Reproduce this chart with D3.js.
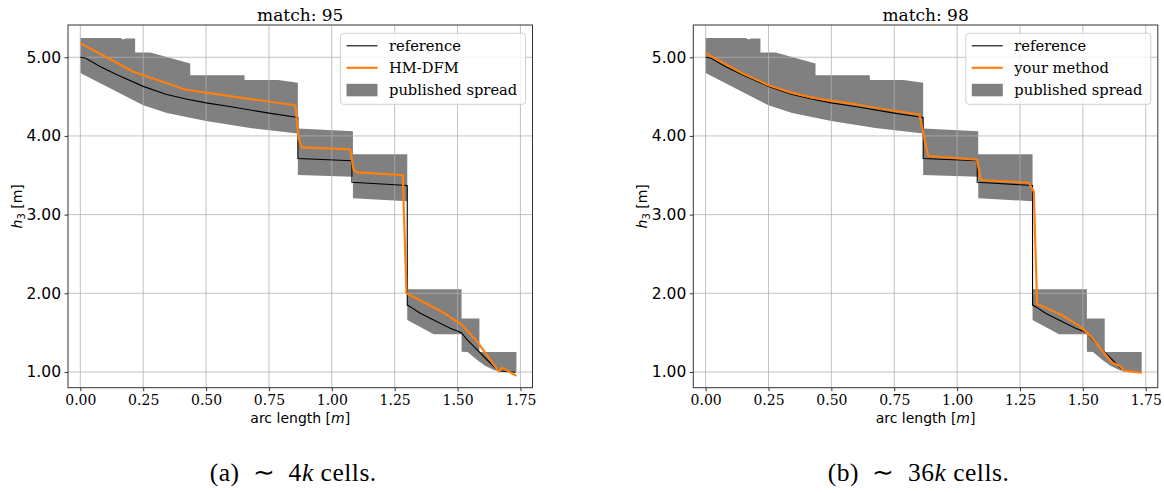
<!DOCTYPE html>
<html><head><meta charset="utf-8">
<script src="https://cdn.jsdelivr.net/npm/d3@7"></script>
<style>body{margin:0;background:#fff;} svg{display:block;}</style>
</head><body>
<svg id="c" width="1164" height="493"></svg>
<script>
// ---- data ----
const xTicks = [0, 0.25, 0.5, 0.75, 1.0, 1.25, 1.5, 1.75];
const yTicks = [1, 2, 3, 4, 5];
const titles = ["match: 95", "match: 98"];
const methodNames = ["HM-DFM", "your method"];
const captionLetters = ["(a)", "(b)"];
const captionCells = ["4", "36"];

// published spread: upper and lower boundaries [s, h]
const spreadUpper = [
  [0.000,5.245],[0.160,5.245],[0.171,5.226],[0.180,5.24],[0.218,5.24],[0.218,5.06],
  [0.277,5.06],[0.300,5.04],[0.437,4.92],[0.437,4.77],[0.653,4.77],[0.653,4.71],
  [0.787,4.71],[0.865,4.676],[0.865,4.096],[1.084,4.06],[1.084,3.766],[1.300,3.766],
  [1.300,2.05],[1.516,2.05],[1.516,1.68],[1.587,1.68],[1.587,1.255],[1.734,1.255]
];
const spreadLower = [
  [0.000,4.80],[0.250,4.39],[0.344,4.29],[0.500,4.19],[0.675,4.10],[0.865,4.03],
  [0.865,3.503],[1.084,3.48],[1.084,3.207],[1.300,3.17],[1.300,1.66],[1.405,1.48],
  [1.516,1.48],[1.516,1.258],[1.540,1.255],[1.578,1.152],[1.611,1.076],[1.645,1.025],
  [1.671,1.00],[1.734,0.99]
];
const reference = [
  [0.00,5.00],[0.02,4.99],[0.08,4.88],[0.15,4.77],[0.25,4.63],[0.34,4.53],[0.42,4.47],
  [0.50,4.42],[0.60,4.37],[0.75,4.29],[0.865,4.235],[0.865,3.713],[1.08,3.685],
  [1.08,3.41],[1.30,3.37],[1.30,1.85],[1.312,1.83],[1.35,1.75],[1.405,1.66],
  [1.471,1.555],[1.515,1.50],[1.538,1.41],[1.578,1.28],[1.618,1.152],[1.651,1.047],
  [1.671,1.013],[1.73,0.996]
];
const methodA = [
  [0.00,5.18],[0.211,4.815],[0.417,4.59],[0.50,4.55],[0.608,4.50],[0.855,4.39],
  [0.868,3.97],[0.881,3.855],[1.073,3.83],[1.087,3.567],[1.10,3.537],[1.282,3.503],
  [1.297,2.00],[1.438,1.766],[1.518,1.597],[1.578,1.385],[1.664,1.004],[1.677,1.055],
  [1.734,0.95]
];
const methodB = [
  [0.00,5.05],[0.08,4.91],[0.15,4.79],[0.25,4.645],[0.34,4.55],[0.42,4.49],[0.50,4.445],
  [0.60,4.40],[0.75,4.32],[0.85,4.27],[0.885,3.745],[1.079,3.70],[1.095,3.44],
  [1.285,3.405],[1.305,3.29],[1.318,1.864],[1.416,1.724],[1.49,1.576],[1.533,1.449],
  [1.615,1.12],[1.646,1.08],[1.664,1.017],[1.735,0.99]
];
const methods = [methodA, methodB];

// ---- drawing ----
const svg = d3.select("#c");
const panelLeft = [68, 693.3];
const W = 464.5, pTop = 25, pBottom = 387.7;
const ORANGE = "#ff7f0e";

panelLeft.forEach((L, i) => {
  const x = d3.scaleLinear().domain([-0.049, 1.798]).range([L, L + W]);
  const y = d3.scaleLinear().domain([0.80, 5.41]).range([pBottom, pTop]);
  const g = svg.append("g");
  const cid = "clip" + i;
  svg.append("clipPath").attr("id", cid).append("rect")
    .attr("x", L).attr("y", pTop).attr("width", W).attr("height", pBottom - pTop);

  const plot = g.append("g").attr("clip-path", `url(#${cid})`);
  const line = d3.line().x(d => x(d[0])).y(d => y(d[1]));
  const poly = spreadUpper.concat(spreadLower.slice().reverse());
  plot.append("path").attr("d", line(poly) + "Z").attr("fill", "#808080").attr("stroke", "none");

  xTicks.forEach(t => plot.append("line").attr("x1", x(t)).attr("x2", x(t)).attr("y1", pTop).attr("y2", pBottom)
    .attr("stroke", "#b0b0b0").attr("stroke-width", 0.9).attr("opacity", 0.85));
  yTicks.forEach(t => plot.append("line").attr("x1", L).attr("x2", L + W).attr("y1", y(t)).attr("y2", y(t))
    .attr("stroke", "#b0b0b0").attr("stroke-width", 0.9).attr("opacity", 0.85));

  plot.append("path").attr("d", line(reference)).attr("fill", "none").attr("stroke", "#000").attr("stroke-width", 1.1);
  plot.append("path").attr("d", line(methods[i])).attr("fill", "none").attr("stroke", ORANGE)
    .attr("stroke-width", 2.2).attr("stroke-linejoin", "round");

  const xa = g.append("g").attr("transform", `translate(0,${pBottom})`)
    .call(d3.axisBottom(x).tickValues(xTicks).tickFormat(d3.format(".2f")).tickSizeOuter(0).tickSize(3.5).tickPadding(4));
  xa.select(".domain").remove();
  xa.selectAll("text").attr("font-family", "DejaVu Serif").attr("font-size", 14).attr("fill", "#000");
  xa.selectAll("line").attr("stroke", "#333");
  const ya = g.append("g").attr("transform", `translate(${L},0)`)
    .call(d3.axisLeft(y).tickValues(yTicks).tickFormat(d3.format(".2f")).tickSizeOuter(0).tickSize(3.5).tickPadding(3.5));
  ya.select(".domain").remove();
  ya.selectAll("text").attr("font-family", "DejaVu Sans").attr("font-size", 15.5).attr("fill", "#000");
  ya.selectAll("line").attr("stroke", "#333");

  g.append("rect").attr("x", L).attr("y", pTop).attr("width", W).attr("height", pBottom - pTop)
    .attr("fill", "none").attr("stroke", "#333").attr("stroke-width", 1);

  g.append("text").attr("x", L + W / 2).attr("y", 20.5).attr("text-anchor", "middle")
    .attr("font-family", "DejaVu Serif").attr("font-size", 17).text(titles[i]);

  const xl = g.append("text").attr("x", L + W / 2).attr("y", 422.5).attr("text-anchor", "middle")
    .attr("font-family", "DejaVu Sans").attr("font-size", 14);
  xl.append("tspan").text("arc length [");
  xl.append("tspan").attr("font-style", "italic").text("m");
  xl.append("tspan").text("]");

  const yl = g.append("text").attr("transform", `translate(${L - 46},${(pTop + pBottom) / 2}) rotate(-90)`)
    .attr("text-anchor", "middle").attr("font-family", "DejaVu Sans").attr("font-size", 14);
  yl.append("tspan").attr("font-style", "italic").text("h");
  yl.append("tspan").attr("font-size", 10).attr("dy", 3).text("3");
  yl.append("tspan").attr("dy", -3).text(" [m]");

  const lx = L + W - 7 - 185, ly = 33.3;
  const lg = g.append("g");
  lg.append("rect").attr("x", lx).attr("y", ly).attr("width", 185).attr("height", 71).attr("rx", 3)
    .attr("fill", "#fff").attr("fill-opacity", 0.8).attr("stroke", "#d0d0d0").attr("stroke-width", 1);
  const hx0 = lx + 6, hx1 = lx + 37, tx = lx + 48.5;
  const rows = [ly + 12.5, ly + 34.5, ly + 56.5];
  lg.append("line").attr("x1", hx0).attr("x2", hx1).attr("y1", rows[0]).attr("y2", rows[0]).attr("stroke", "#000").attr("stroke-width", 1.1);
  lg.append("line").attr("x1", hx0).attr("x2", hx1).attr("y1", rows[1]).attr("y2", rows[1]).attr("stroke", ORANGE).attr("stroke-width", 2.2);
  lg.append("rect").attr("x", hx0).attr("y", rows[2] - 6).attr("width", hx1 - hx0).attr("height", 12.5).attr("fill", "#808080");
  const labels = ["reference", methodNames[i], "published spread"];
  labels.forEach((t, k) => lg.append("text").attr("x", tx).attr("y", rows[k] + 5)
    .attr("font-family", "DejaVu Serif").attr("font-size", 14.7).text(t));

  const cap = g.append("text").attr("x", L + W / 2 - 7).attr("y", 481).attr("text-anchor", "middle")
    .attr("font-family", "Liberation Serif").attr("font-size", 25.5).attr("letter-spacing", 0.5);
  cap.append("tspan").text(captionLetters[i] + "\u2002\u223C\u2002" + captionCells[i]);
  cap.append("tspan").attr("font-style", "italic").text("k");
  cap.append("tspan").text(" cells.");
});
</script>
</body></html>
